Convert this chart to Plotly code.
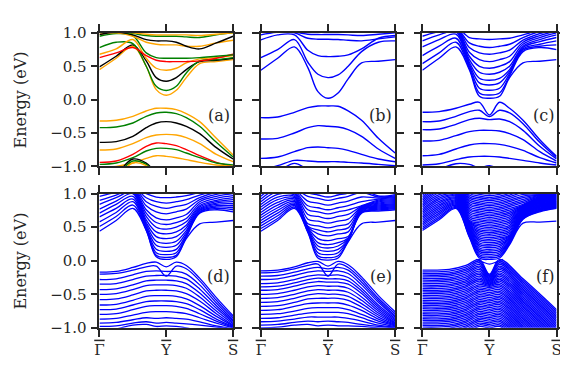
import plotly.graph_objects as go

# ---------------- data ----------------
K = [0.0, 0.25, 0.5, 0.7, 0.85, 1.0, 1.15, 1.3, 1.5, 1.75, 2.0]
tick_k = [0, 1, 2]
tick_k_text = ["<span style='text-decoration:overline'>Γ</span>",
               "<span style='text-decoration:overline'>Y</span>",
               "<span style='text-decoration:overline'>S</span>"]
tick_e = [-1.0, -0.5, 0.0, 0.5, 1.0]
tick_e_text = ["−1.0", "−0.5", "0.0", "0.5", "1.0"]
panel_labels = ["(a)", "(b)", "(c)", "(d)", "(e)", "(f)"]

# (a) colored bands
a_bands = [
    [-0.32, -0.31, -0.25, -0.17, -0.13, -0.13, -0.15, -0.21, -0.33, -0.58, -0.83],
    [-0.42, -0.41, -0.35, -0.25, -0.20, -0.19, -0.21, -0.27, -0.40, -0.64, -0.86],
    [-0.64, -0.63, -0.55, -0.42, -0.35, -0.33, -0.35, -0.40, -0.51, -0.72, -0.89],
    [-0.755, -0.74, -0.66, -0.57, -0.53, -0.52, -0.53, -0.57, -0.66, -0.82, -0.93],
    [-0.94, -0.92, -0.82, -0.70, -0.65, -0.66, -0.69, -0.75, -0.84, -0.94, -1.0],
    [-0.97, -0.95, -0.87, -0.77, -0.73, -0.73, -0.75, -0.80, -0.87, -0.95, -0.98],
    [-1.02, -1.0, -0.95, -0.88, -0.84, -0.85, -0.87, -0.90, -0.94, -0.98, -1.0],
    [-1.3, -1.12, -0.89, -0.95, -1.1, -1.2, -1.2, -1.2, -1.2, -1.2, -1.2],
    [-1.3, -1.14, -0.92, -0.97, -1.12, -1.2, -1.2, -1.2, -1.2, -1.2, -1.2],
    [-1.3, -1.16, -0.95, -0.99, -1.14, -1.2, -1.2, -1.2, -1.2, -1.2, -1.2],
    [0.45, 0.62, 0.80, 0.50, 0.15, 0.065, 0.14, 0.33, 0.54, 0.57, 0.60],
    [0.49, 0.65, 0.82, 0.58, 0.33, 0.275, 0.33, 0.45, 0.57, 0.59, 0.62],
    [0.78, 0.86, 0.84, 0.50, 0.20, 0.137, 0.20, 0.40, 0.58, 0.60, 0.63],
    [0.68, 0.76, 0.90, 0.62, 0.47, 0.44, 0.47, 0.55, 0.61, 0.63, 0.66],
    [0.63, 0.70, 0.78, 0.66, 0.59, 0.57, 0.57, 0.57, 0.58, 0.62, 0.68],
    [0.95, 0.99, 0.96, 0.70, 0.63, 0.62, 0.62, 0.62, 0.63, 0.65, 0.67],
    [0.98, 1.0, 0.95, 0.86, 0.83, 0.82, 0.82, 0.80, 0.80, 0.85, 0.89],
    [0.975, 1.01, 0.97, 0.90, 0.88, 0.88, 0.86, 0.80, 0.76, 0.85, 0.95],
    [1.02, 1.02, 0.99, 0.96, 0.95, 0.95, 0.95, 0.94, 0.93, 0.97, 1.0],
    [1.03, 1.03, 1.0, 0.98, 0.97, 0.97, 0.97, 0.97, 0.96, 0.98, 1.0],
]
a_band_colors = ["orange", "green", "black", "orange", "red", "green", "orange",
                 "black", "green", "orange",
                 "orange", "black", "green", "orange", "red", "green", "orange",
                 "black", "green", "orange"]

b_bands = [
    [-0.27, -0.26, -0.19, -0.12, -0.095, -0.095, -0.10, -0.17, -0.31, -0.58, -0.80],
    [-0.59, -0.58, -0.50, -0.42, -0.39, -0.40, -0.41, -0.45, -0.55, -0.74, -0.88],
    [-0.88, -0.86, -0.78, -0.72, -0.71, -0.72, -0.73, -0.76, -0.82, -0.89, -0.93],
    [-1.05, -0.99, -0.91, -0.92, -0.93, -0.93, -0.93, -0.94, -0.95, -0.97, -0.99],
    [-1.2, -1.08, -0.955, -1.05, -1.15, -1.15, -1.15, -1.15, -1.15, -1.15, -1.15],
    [0.44, 0.62, 0.79, 0.48, 0.12, 0.02, 0.10, 0.31, 0.55, 0.575, 0.60],
    [0.63, 0.75, 0.90, 0.56, 0.38, 0.33, 0.37, 0.50, 0.72, 0.86, 0.88],
    [0.895, 0.97, 0.97, 0.74, 0.66, 0.645, 0.65, 0.67, 0.76, 0.92, 0.96],
    [0.97, 1.01, 1.0, 0.92, 0.905, 0.905, 0.90, 0.89, 0.88, 0.91, 0.94],
    [1.02, 1.02, 1.01, 0.98, 0.975, 0.975, 0.975, 0.97, 0.96, 0.98, 1.0],
]

c_bands = [
    [-0.19, -0.18, -0.13, -0.07, -0.04, -0.23, -0.04, -0.13, -0.31, -0.60, -0.85],
    [-0.33, -0.32, -0.25, -0.18, -0.16, -0.255, -0.16, -0.20, -0.36, -0.64, -0.87],
    [-0.45, -0.44, -0.37, -0.30, -0.28, -0.30, -0.29, -0.33, -0.46, -0.70, -0.89],
    [-0.62, -0.61, -0.54, -0.48, -0.46, -0.46, -0.47, -0.51, -0.60, -0.78, -0.92],
    [-0.84, -0.82, -0.74, -0.68, -0.66, -0.66, -0.67, -0.70, -0.76, -0.87, -0.95],
    [-0.98, -0.96, -0.90, -0.86, -0.85, -0.85, -0.86, -0.88, -0.91, -0.95, -0.98],
    [-1.2, -1.05, -0.96, -0.97, -1.02, -0.99, -1.05, -1.2, -1.2, -1.2, -1.2],
    [0.44, 0.62, 0.79, 0.45, 0.05, 0.02, 0.05, 0.33, 0.55, 0.575, 0.60],
    [0.54, 0.70, 0.86, 0.47, 0.10, 0.07, 0.10, 0.36, 0.72, 0.78, 0.75],
    [0.66, 0.80, 0.92, 0.50, 0.17, 0.14, 0.17, 0.39, 0.74, 0.80, 0.82],
    [0.79, 0.90, 0.98, 0.53, 0.25, 0.22, 0.25, 0.42, 0.76, 0.83, 0.88],
    [0.88, 0.97, 1.02, 0.56, 0.32, 0.29, 0.32, 0.45, 0.78, 0.87, 0.93],
    [0.95, 1.02, 1.05, 0.60, 0.41, 0.38, 0.41, 0.50, 0.80, 0.90, 0.97],
    [1.05, 1.05, 1.06, 0.65, 0.50, 0.47, 0.50, 0.57, 0.83, 0.93, 1.0],
    [1.06, 1.06, 1.07, 0.71, 0.60, 0.57, 0.60, 0.65, 0.86, 0.96, 1.03],
    [1.07, 1.07, 1.08, 0.78, 0.70, 0.68, 0.70, 0.74, 0.89, 0.99, 1.05],
    [1.08, 1.08, 1.08, 0.85, 0.80, 0.78, 0.80, 0.83, 0.93, 1.02, 1.06],
    [1.09, 1.09, 1.09, 0.93, 0.91, 0.90, 0.91, 0.92, 0.97, 1.04, 1.07],
]

d_bands = [
    [-0.17, -0.16, -0.10, -0.04, -0.02, -0.09, -0.02, -0.07, -0.26, -0.55, -0.82],
    [-0.20, -0.19, -0.14, -0.09, -0.08, -0.23, -0.08, -0.12, -0.30, -0.59, -0.85],
    [-0.28, -0.27, -0.21, -0.16, -0.15, -0.16, -0.16, -0.20, -0.36, -0.63, -0.88],
    [-0.35, -0.34, -0.28, -0.23, -0.22, -0.22, -0.23, -0.27, -0.42, -0.67, -0.90],
    [-0.43, -0.42, -0.36, -0.30, -0.29, -0.29, -0.30, -0.34, -0.48, -0.71, -0.92],
    [-0.50, -0.49, -0.43, -0.37, -0.36, -0.36, -0.37, -0.41, -0.54, -0.75, -0.94],
    [-0.58, -0.57, -0.51, -0.45, -0.44, -0.44, -0.45, -0.49, -0.60, -0.79, -0.96],
    [-0.66, -0.65, -0.59, -0.53, -0.52, -0.52, -0.53, -0.57, -0.67, -0.83, -0.97],
    [-0.73, -0.72, -0.66, -0.61, -0.60, -0.60, -0.61, -0.64, -0.73, -0.87, -0.98],
    [-0.80, -0.79, -0.73, -0.68, -0.67, -0.67, -0.68, -0.71, -0.79, -0.90, -0.99],
    [-0.87, -0.86, -0.81, -0.77, -0.76, -0.76, -0.77, -0.79, -0.85, -0.93, -1.0],
    [-0.93, -0.92, -0.88, -0.85, -0.86, -0.85, -0.86, -0.87, -0.91, -0.97, -1.01],
    [-0.98, -0.97, -0.93, -0.91, -0.93, -0.92, -0.93, -0.94, -0.96, -0.99, -1.02],
    [-1.1, -1.02, -0.96, -0.95, -0.98, -0.97, -0.98, -1.0, -1.05, -1.1, -1.1],
    [0.44, 0.60, 0.78, 0.45, 0.06, 0.02, 0.06, 0.33, 0.55, 0.575, 0.60],
    [0.51, 0.66, 0.83, 0.46, 0.08, 0.05, 0.08, 0.35, 0.71, 0.76, 0.73],
    [0.58, 0.72, 0.88, 0.47, 0.12, 0.09, 0.12, 0.37, 0.72, 0.78, 0.76],
    [0.655, 0.78, 0.92, 0.49, 0.17, 0.14, 0.17, 0.39, 0.73, 0.80, 0.79],
    [0.71, 0.84, 0.96, 0.51, 0.23, 0.20, 0.23, 0.42, 0.75, 0.82, 0.82],
    [0.77, 0.89, 1.0, 0.54, 0.29, 0.26, 0.29, 0.45, 0.76, 0.84, 0.85],
    [0.84, 0.94, 1.03, 0.57, 0.36, 0.33, 0.36, 0.49, 0.78, 0.86, 0.88],
    [0.90, 0.98, 1.05, 0.61, 0.43, 0.40, 0.43, 0.53, 0.80, 0.88, 0.91],
    [0.96, 1.02, 1.06, 0.66, 0.50, 0.47, 0.50, 0.58, 0.82, 0.90, 0.94],
    [1.05, 1.06, 1.07, 0.71, 0.57, 0.54, 0.57, 0.63, 0.85, 0.93, 0.97],
    [1.06, 1.07, 1.08, 0.76, 0.64, 0.61, 0.64, 0.69, 0.88, 0.96, 1.0],
    [1.07, 1.08, 1.09, 0.82, 0.73, 0.70, 0.73, 0.77, 0.91, 0.99, 1.03],
    [1.08, 1.09, 1.10, 0.88, 0.81, 0.78, 0.81, 0.84, 0.94, 1.02, 1.05],
    [1.09, 1.10, 1.10, 0.94, 0.88, 0.86, 0.88, 0.91, 0.98, 1.04, 1.06],
    [1.10, 1.10, 1.10, 1.0, 0.95, 0.94, 0.95, 0.97, 1.02, 1.06, 1.07],
]

e_bands = [
    [-0.15, -0.14, -0.09, -0.03, -0.01, -0.08, -0.01, -0.06, -0.24, -0.52, -0.76],
    [-0.18, -0.17, -0.12, -0.07, -0.05, -0.23, -0.05, -0.10, -0.28, -0.56, -0.79],
    [-0.23, -0.22, -0.17, -0.12, -0.10, -0.12, -0.10, -0.14, -0.32, -0.59, -0.82],
    [-0.28, -0.27, -0.22, -0.17, -0.15, -0.16, -0.15, -0.19, -0.36, -0.62, -0.84],
    [-0.34, -0.33, -0.28, -0.23, -0.21, -0.22, -0.21, -0.25, -0.41, -0.66, -0.86],
    [-0.39, -0.38, -0.33, -0.28, -0.26, -0.27, -0.27, -0.30, -0.45, -0.69, -0.88],
    [-0.44, -0.43, -0.38, -0.33, -0.31, -0.32, -0.32, -0.35, -0.49, -0.72, -0.90],
    [-0.50, -0.49, -0.44, -0.39, -0.37, -0.38, -0.38, -0.41, -0.54, -0.75, -0.92],
    [-0.56, -0.55, -0.50, -0.45, -0.43, -0.44, -0.44, -0.47, -0.59, -0.78, -0.93],
    [-0.62, -0.61, -0.56, -0.51, -0.49, -0.50, -0.50, -0.53, -0.64, -0.81, -0.94],
    [-0.68, -0.67, -0.62, -0.57, -0.56, -0.56, -0.56, -0.59, -0.69, -0.84, -0.95],
    [-0.74, -0.73, -0.68, -0.64, -0.63, -0.63, -0.63, -0.66, -0.74, -0.87, -0.96],
    [-0.80, -0.79, -0.75, -0.71, -0.70, -0.70, -0.70, -0.73, -0.80, -0.90, -0.97],
    [-0.86, -0.85, -0.81, -0.78, -0.77, -0.77, -0.77, -0.79, -0.85, -0.93, -0.98],
    [-0.91, -0.90, -0.87, -0.84, -0.84, -0.84, -0.84, -0.86, -0.90, -0.96, -0.99],
    [-0.96, -0.95, -0.92, -0.90, -0.91, -0.90, -0.91, -0.92, -0.95, -0.98, -1.0],
    [-1.0, -0.99, -0.96, -0.95, -0.97, -0.96, -0.97, -0.97, -0.98, -1.0, -1.01],
    [0.44, 0.60, 0.78, 0.42, 0.04, 0.01, 0.04, 0.28, 0.55, 0.575, 0.60],
    [0.48, 0.63, 0.80, 0.432, 0.075, 0.045, 0.075, 0.292, 0.71, 0.74, 0.76],
    [0.52, 0.67, 0.82, 0.444, 0.12, 0.09, 0.12, 0.304, 0.72, 0.755, 0.775],
    [0.56, 0.71, 0.84, 0.456, 0.17, 0.14, 0.17, 0.316, 0.73, 0.77, 0.79],
    [0.60, 0.75, 0.86, 0.468, 0.22, 0.19, 0.22, 0.328, 0.74, 0.785, 0.805],
    [0.64, 0.79, 0.88, 0.48, 0.27, 0.24, 0.27, 0.34, 0.75, 0.80, 0.82],
    [0.68, 0.83, 0.90, 0.492, 0.33, 0.30, 0.33, 0.36, 0.76, 0.815, 0.835],
    [0.72, 0.87, 0.92, 0.504, 0.40, 0.37, 0.40, 0.43, 0.77, 0.83, 0.85],
    [0.76, 0.91, 0.94, 0.516, 0.46, 0.43, 0.46, 0.49, 0.78, 0.845, 0.865],
    [0.80, 0.95, 0.96, 0.55, 0.52, 0.49, 0.52, 0.55, 0.79, 0.86, 0.88],
    [0.84, 0.99, 0.98, 0.62, 0.59, 0.56, 0.59, 0.62, 0.80, 0.875, 0.895],
    [0.88, 1.03, 1.00, 0.69, 0.66, 0.63, 0.66, 0.69, 0.81, 0.89, 0.91],
    [0.92, 1.07, 1.02, 0.76, 0.73, 0.70, 0.73, 0.76, 0.82, 0.905, 0.925],
    [0.96, 1.11, 1.04, 0.82, 0.79, 0.76, 0.79, 0.82, 0.88, 0.92, 0.94],
    [1.00, 1.15, 1.06, 0.89, 0.86, 0.83, 0.86, 0.89, 0.95, 0.935, 0.955],
    [1.04, 1.19, 1.08, 0.96, 0.93, 0.90, 0.93, 0.96, 1.02, 0.95, 0.97],
    [1.08, 1.23, 1.10, 1.01, 0.98, 0.95, 0.98, 1.01, 1.07, 0.965, 0.985],
]

# (f) valence family, one value per band at each k-point of K_FV
K_FV = [0.0, 0.4, 0.65, 0.85, 1.0, 1.15, 1.5, 2.0]
fv_G = [-0.140, -0.165, -0.190, -0.215, -0.240, -0.265, -0.290, -0.315, -0.340, -0.365,
        -0.390, -0.415, -0.440, -0.465, -0.490, -0.515, -0.540, -0.565, -0.590, -0.615,
        -0.640, -0.665, -0.690, -0.715, -0.740, -0.765, -0.790, -0.815, -0.840, -0.865,
        -0.890, -0.915, -0.940, -0.965, -0.990, -1.015, -1.040, -1.065, -1.090, -1.115, -1.140]
fv_k04 = [-0.130, -0.155, -0.180, -0.205, -0.230, -0.255, -0.280, -0.305, -0.330, -0.355,
          -0.380, -0.405, -0.430, -0.455, -0.480, -0.505, -0.530, -0.555, -0.580, -0.605,
          -0.630, -0.655, -0.680, -0.705, -0.730, -0.755, -0.780, -0.805, -0.830, -0.855,
          -0.880, -0.905, -0.930, -0.955, -0.980, -1.005, -1.030, -1.055, -1.080, -1.105, -1.130]
fv_k065 = [-0.070, -0.095, -0.120, -0.145, -0.170, -0.195, -0.220, -0.245, -0.270, -0.295,
           -0.320, -0.345, -0.370, -0.395, -0.420, -0.445, -0.470, -0.495, -0.520, -0.545,
           -0.570, -0.595, -0.620, -0.645, -0.670, -0.695, -0.720, -0.745, -0.770, -0.795,
           -0.820, -0.845, -0.870, -0.895, -0.920, -0.945, -0.970, -0.995, -1.020, -1.045, -1.070]
fv_peak = [0.020, -0.005, -0.030, -0.055, -0.080, -0.105, -0.130, -0.155, -0.180, -0.205,
           -0.230, -0.255, -0.280, -0.305, -0.330, -0.355, -0.380, -0.405, -0.430, -0.455,
           -0.480, -0.505, -0.530, -0.555, -0.580, -0.605, -0.630, -0.655, -0.680, -0.705,
           -0.730, -0.755, -0.780, -0.805, -0.830, -0.855, -0.880, -0.905, -0.930, -0.955, -0.980]
fv_Y = [-0.200, -0.212, -0.224, -0.236, -0.248, -0.260, -0.272, -0.284, -0.296, -0.308,
        -0.320, -0.332, -0.344, -0.356, -0.368, -0.380, -0.400, -0.425, -0.450, -0.475,
        -0.500, -0.525, -0.550, -0.575, -0.600, -0.625, -0.650, -0.675, -0.700, -0.725,
        -0.750, -0.775, -0.800, -0.825, -0.850, -0.875, -0.900, -0.925, -0.950, -0.975, -1.000]
fv_k15 = [-0.270, -0.295, -0.320, -0.345, -0.370, -0.395, -0.420, -0.445, -0.470, -0.495,
          -0.520, -0.545, -0.570, -0.595, -0.620, -0.645, -0.670, -0.695, -0.720, -0.745,
          -0.770, -0.795, -0.820, -0.845, -0.870, -0.895, -0.920, -0.945, -0.970, -0.995,
          -1.020, -1.045, -1.070, -1.095, -1.120, -1.145, -1.170, -1.195, -1.220, -1.245, -1.270]
fv_S = [-0.730, -0.755, -0.780, -0.805, -0.830, -0.855, -0.880, -0.905, -0.930, -0.955,
        -0.980, -1.005, -1.030, -1.055, -1.080, -1.105, -1.130, -1.155, -1.180, -1.205,
        -1.230, -1.255, -1.280, -1.305, -1.330, -1.355, -1.380, -1.405, -1.430, -1.455,
        -1.480, -1.505, -1.530, -1.555, -1.580, -1.605, -1.630, -1.655, -1.680, -1.705, -1.730]

# (f) surface-state arc near Y
f_surf_k = [0.8, 0.9, 1.0, 1.1, 1.2]
f_surf_E = [0.02, -0.02, -0.05, -0.02, 0.02]

# (f) conduction family, one value per band at each k-point of K
fc_G = [0.450, 0.475, 0.500, 0.525, 0.550, 0.575, 0.600, 0.625, 0.650, 0.675,
        0.700, 0.725, 0.750, 0.775, 0.800, 0.825, 0.850, 0.875, 0.900, 0.925,
        0.950, 0.975, 1.000, 1.025, 1.050, 1.075, 1.100, 1.125, 1.150, 1.175,
        1.200, 1.225, 1.250, 1.275, 1.300, 1.325, 1.350, 1.375, 1.400, 1.425]
fc_k025 = [0.610, 0.635, 0.660, 0.685, 0.710, 0.735, 0.760, 0.785, 0.810, 0.835,
           0.860, 0.885, 0.910, 0.935, 0.960, 0.985, 1.010, 1.035, 1.060, 1.085,
           1.110, 1.135, 1.160, 1.185, 1.210, 1.235, 1.260, 1.285, 1.310, 1.335,
           1.360, 1.385, 1.410, 1.435, 1.460, 1.485, 1.510, 1.535, 1.560, 1.585]
fc_k05 = [0.780, 0.795, 0.810, 0.825, 0.840, 0.855, 0.870, 0.885, 0.900, 0.915,
          0.930, 0.945, 0.960, 0.975, 0.990, 1.005, 1.020, 1.035, 1.050, 1.065,
          1.080, 1.095, 1.110, 1.125, 1.140, 1.155, 1.170, 1.185, 1.200, 1.215,
          1.230, 1.245, 1.260, 1.275, 1.290, 1.305, 1.320, 1.335, 1.350, 1.365]
fc_k07 = [0.350, 0.362, 0.374, 0.386, 0.398, 0.410, 0.422, 0.434, 0.446, 0.458,
          0.470, 0.482, 0.494, 0.506, 0.518, 0.530, 0.542, 0.554, 0.566, 0.578,
          0.590, 0.605, 0.630, 0.655, 0.680, 0.705, 0.730, 0.755, 0.780, 0.805,
          0.830, 0.855, 0.880, 0.905, 0.930, 0.955, 0.980, 1.005, 1.030, 1.055]
fc_side = [0.040, 0.065, 0.090, 0.115, 0.140, 0.165, 0.190, 0.215, 0.240, 0.265,
           0.290, 0.315, 0.340, 0.365, 0.390, 0.415, 0.440, 0.465, 0.490, 0.515,
           0.540, 0.565, 0.590, 0.615, 0.640, 0.665, 0.690, 0.715, 0.740, 0.765,
           0.790, 0.815, 0.840, 0.865, 0.890, 0.915, 0.940, 0.965, 0.990, 1.015]
fc_Y = [0.020, 0.045, 0.070, 0.095, 0.120, 0.145, 0.170, 0.195, 0.220, 0.245,
        0.270, 0.295, 0.320, 0.345, 0.370, 0.395, 0.420, 0.445, 0.470, 0.495,
        0.520, 0.545, 0.570, 0.595, 0.620, 0.645, 0.670, 0.695, 0.720, 0.745,
        0.770, 0.795, 0.820, 0.845, 0.870, 0.895, 0.920, 0.945, 0.970, 0.995]
fc_k13 = [0.240, 0.252, 0.264, 0.276, 0.288, 0.300, 0.312, 0.324, 0.336, 0.348,
          0.360, 0.372, 0.384, 0.405, 0.430, 0.455, 0.480, 0.505, 0.530, 0.555,
          0.580, 0.605, 0.630, 0.655, 0.680, 0.705, 0.730, 0.755, 0.780, 0.805,
          0.830, 0.855, 0.880, 0.905, 0.930, 0.955, 0.980, 1.005, 1.030, 1.055]
fc_k15 = [0.560, 0.618, 0.626, 0.634, 0.642, 0.650, 0.658, 0.666, 0.674, 0.682,
          0.690, 0.698, 0.706, 0.714, 0.722, 0.730, 0.738, 0.746, 0.754, 0.762,
          0.770, 0.778, 0.786, 0.794, 0.802, 0.810, 0.818, 0.826, 0.840, 0.865,
          0.890, 0.915, 0.940, 0.965, 0.990, 1.015, 1.040, 1.065, 1.090, 1.115]
fc_k175 = [0.575, 0.730, 0.738, 0.746, 0.754, 0.762, 0.770, 0.778, 0.786, 0.794,
           0.802, 0.810, 0.818, 0.826, 0.834, 0.842, 0.850, 0.858, 0.866, 0.874,
           0.882, 0.890, 0.898, 0.906, 0.914, 0.922, 0.930, 0.938, 0.946, 0.954,
           0.962, 0.970, 0.978, 0.986, 0.994, 1.002, 1.010, 1.018, 1.026, 1.034]
fc_S = [0.590, 0.780, 0.786, 0.792, 0.798, 0.804, 0.810, 0.816, 0.822, 0.828,
        0.834, 0.840, 0.846, 0.852, 0.858, 0.864, 0.870, 0.876, 0.882, 0.888,
        0.894, 0.900, 0.906, 0.912, 0.918, 0.924, 0.930, 0.936, 0.942, 0.948,
        0.954, 0.960, 0.966, 0.972, 0.978, 0.984, 0.990, 0.996, 1.002, 1.008]

# ---------------- figure ----------------
W, H = 568, 370
INK = "#262626"
FONT = "DejaVu Serif"
COLORS = {"orange": "#FFA500", "green": "#008000", "black": "#000000",
          "red": "#FF0000", "blue": "#0000FF"}

x_dom = [(88 / W, 224 / W), (252.3 / W, 389 / W), (416.7 / W, 553.3 / W)]
y_dom = [(1 - 157 / H, 1 - 16.7 / H), (1 - 326.7 / H, 1 - 185.7 / H)]

fig = go.Figure()


def axis_names(i):
    return ("x" if i == 1 else f"x{i}"), ("y" if i == 1 else f"y{i}")


def add_line(i, xs, ys, color, width):
    xa, ya = axis_names(i)
    fig.add_trace(go.Scatter(
        x=xs, y=ys, mode="lines", xaxis=xa, yaxis=ya,
        line=dict(color=color, width=width, shape="spline", smoothing=1.0),
        hoverinfo="skip", showlegend=False))


for row, col in zip(a_bands, a_band_colors):
    add_line(1, K, row, COLORS[col], 1.4)
for row in b_bands:
    add_line(2, K, row, COLORS["blue"], 1.4)
for row in c_bands:
    add_line(3, K, row, COLORS["blue"], 1.4)
for row in d_bands:
    add_line(4, K, row, COLORS["blue"], 1.3)
for row in e_bands:
    add_line(5, K, row, COLORS["blue"], 1.3)
for n in range(len(fv_G)):
    row = [fv_G[n], fv_k04[n], fv_k065[n], fv_peak[n], fv_Y[n], fv_peak[n], fv_k15[n], fv_S[n]]
    add_line(6, K_FV, row, COLORS["blue"], 1.3)
add_line(6, f_surf_k, f_surf_E, COLORS["blue"], 1.2)
for n in range(len(fc_G)):
    row = [fc_G[n], fc_k025[n], fc_k05[n], fc_k07[n], fc_side[n], fc_Y[n],
           fc_side[n], fc_k13[n], fc_k15[n], fc_k175[n], fc_S[n]]
    add_line(6, K, row, COLORS["blue"], 1.3)

layout = dict(width=W, height=H, margin=dict(l=0, r=0, t=0, b=0),
              paper_bgcolor="white", plot_bgcolor="white",
              font=dict(family=FONT, color=INK), showlegend=False)

annotations = []
for i in range(1, 7):
    r = 0 if i <= 3 else 1
    c = (i - 1) % 3
    xkey = "xaxis" if i == 1 else f"xaxis{i}"
    ykey = "yaxis" if i == 1 else f"yaxis{i}"
    xa, ya = axis_names(i)
    common = dict(showline=True, linecolor=INK, linewidth=1.7, mirror="ticks",
                  ticks="outside", ticklen=7, tickwidth=1.6, tickcolor=INK,
                  showgrid=False, zeroline=False, fixedrange=True,
                  tickfont=dict(family=FONT, size=15, color=INK))
    layout[xkey] = dict(domain=list(x_dom[c]), range=[0, 2], anchor=ya,
                        tickmode="array", tickvals=tick_k, ticktext=tick_k_text,
                        showticklabels=(r == 1), **common)
    layout[ykey] = dict(domain=list(y_dom[r]), range=[-1, 1], anchor=xa,
                        tickmode="array", tickvals=tick_e, ticktext=tick_e_text,
                        showticklabels=(c == 0), ticklabelstandoff=1, **common)
    annotations.append(dict(x=2.0, y=-0.24, xref=xa, yref=ya, text=panel_labels[i - 1],
                            showarrow=False, xanchor="right", yanchor="middle", xshift=-1,
                            font=dict(family=FONT, size=16, color=INK)))

for r in range(2):
    annotations.append(dict(x=8 / W, y=(y_dom[r][0] + y_dom[r][1]) / 2, xref="paper", yref="paper",
                            text="Energy (eV)", textangle=-90, showarrow=False,
                            xanchor="center", yanchor="middle",
                            font=dict(family=FONT, size=16, color=INK)))
layout["annotations"] = annotations
fig.update_layout(**layout)
fig.write_html("out.html")
